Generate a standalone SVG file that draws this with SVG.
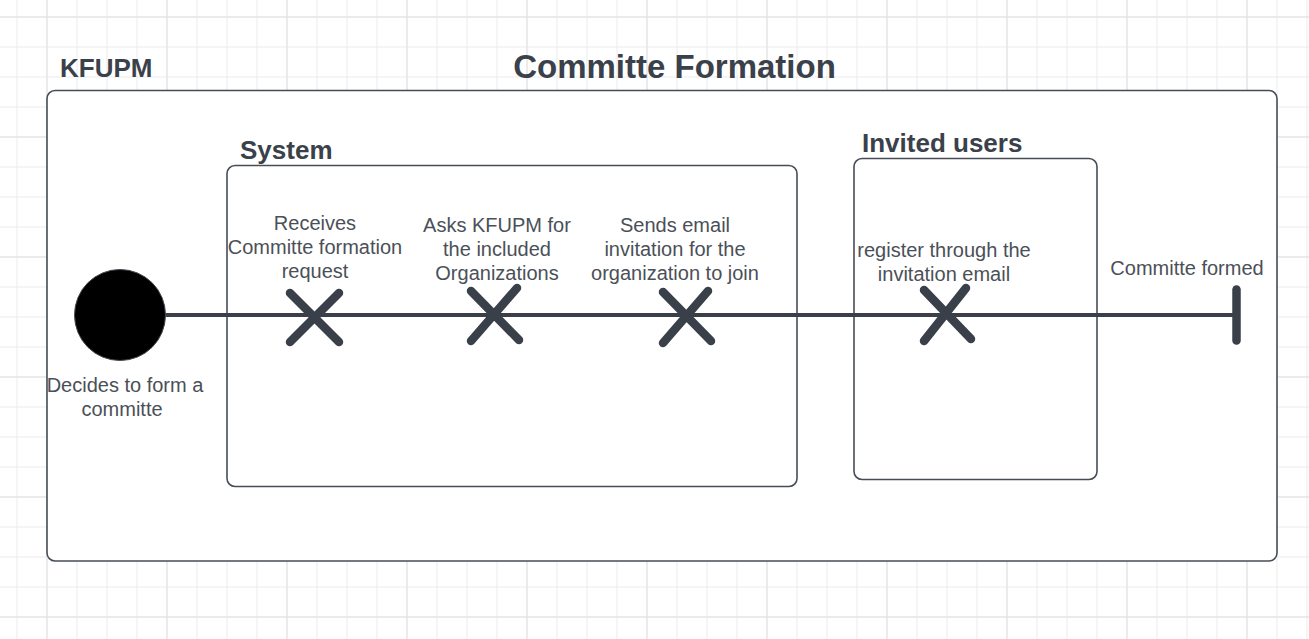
<svg xmlns="http://www.w3.org/2000/svg" width="1309" height="639" viewBox="0 0 1309 639">
  <defs>
    <pattern id="gridMinor" patternUnits="userSpaceOnUse" x="16.5" y="16.5" width="30" height="30">
      <rect x="0" y="0" width="30" height="1" fill="#ebebeb"/>
      <rect x="0" y="0" width="1" height="30" fill="#ebebeb"/>
    </pattern>
    <pattern id="gridMajor" patternUnits="userSpaceOnUse" x="46.5" y="16.5" width="120" height="120">
      <rect x="0" y="0" width="120" height="1" fill="#e1e1e1"/>
      <rect x="0" y="0" width="1" height="120" fill="#e1e1e1"/>
    </pattern>
    <style>
      .box { fill: #ffffff; stroke: #474d56; stroke-width: 1.6; }
      .head { font-family: "Liberation Sans", Arial, sans-serif; font-weight: bold; fill: #3a414a; }
      .lbl { font-family: "Liberation Sans", Arial, sans-serif; font-size: 20px; fill: #4b5058; text-anchor: middle; }
      .flow { stroke: #3a4049; stroke-width: 4; fill: none; }
      .xmark { stroke: #3a4049; stroke-width: 8.5; stroke-linecap: round; fill: none; }
    </style>
  </defs>

  <rect x="0" y="0" width="1309" height="639" fill="#ffffff"/>
  <rect x="0" y="0" width="1309" height="639" fill="url(#gridMinor)"/>
  <rect x="0" y="0" width="1309" height="639" fill="url(#gridMajor)"/>

  <text class="head" x="674.5" y="78" font-size="33" text-anchor="middle">Committe Formation</text>

  <g id="kfupm">
    <rect class="box" x="47" y="90.5" width="1230" height="470.5" rx="8"/>
    <text class="head" x="60" y="77" font-size="26">KFUPM</text>
  </g>

  <g id="system">
    <rect class="box" x="227" y="165.5" width="570" height="321" rx="8"/>
    <text class="head" x="240" y="158.5" font-size="26">System</text>
  </g>

  <g id="invited-users">
    <rect class="box" x="854" y="158.5" width="243" height="321" rx="8"/>
    <text class="head" x="862" y="152" font-size="26">Invited users</text>
  </g>

  <g id="connectors">
    <line class="flow" x1="165" y1="315" x2="1236" y2="315"/>
  </g>

  <g id="start">
    <circle cx="120" cy="315" r="45.5" fill="#000000" stroke="#474d56" stroke-width="1"/>
    <text class="lbl" x="125" y="391.5">Decides to form a</text>
    <text class="lbl" x="122" y="415.5">committe</text>
  </g>

  <g id="receives">
    <path class="xmark" d="M290 293 L339 342 M339 293 L290 342"/>
    <text class="lbl" x="315" y="229.5">Receives</text>
    <text class="lbl" x="315" y="253.5">Committe formation</text>
    <text class="lbl" x="315" y="277.5">request</text>
  </g>

  <g id="asks">
    <path class="xmark" d="M471 291 L519 340 M517 288 L471 341"/>
    <text class="lbl" x="497" y="231.5">Asks KFUPM for</text>
    <text class="lbl" x="497" y="255.5">the included</text>
    <text class="lbl" x="497" y="279.5">Organizations</text>
  </g>

  <g id="sends">
    <path class="xmark" d="M663 292 L711 341 M708 291 L663 343"/>
    <text class="lbl" x="675" y="231.5">Sends email</text>
    <text class="lbl" x="675" y="255.5">invitation for the</text>
    <text class="lbl" x="675" y="279.5">organization to join</text>
  </g>

  <g id="register">
    <path class="xmark" d="M924 290 L971 339 M966 288 L924 341"/>
    <text class="lbl" x="944" y="256.5">register through the</text>
    <text class="lbl" x="944" y="280.5">invitation email</text>
  </g>

  <g id="end">
    <line class="xmark" x1="1236.5" y1="289.5" x2="1236.5" y2="340.5"/>
    <text class="lbl" x="1187" y="275">Committe formed</text>
  </g>
</svg>
